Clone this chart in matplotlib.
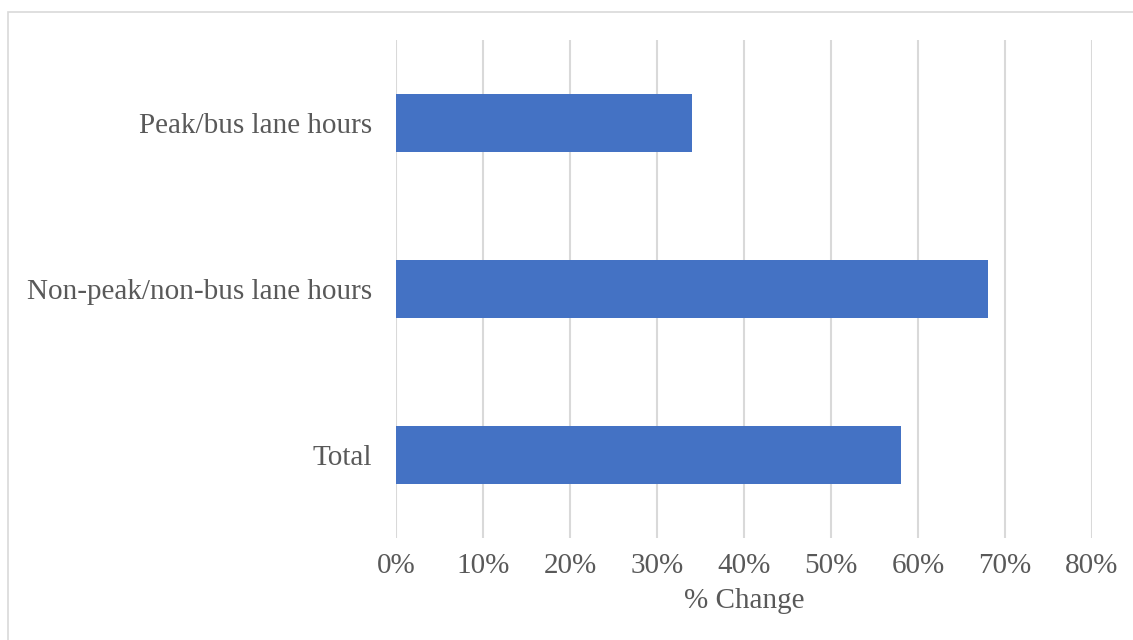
import matplotlib.pyplot as plt
from matplotlib.patches import Rectangle
from matplotlib.ticker import FuncFormatter

categories = ["Peak/bus lane hours", "Non-peak/non-bus lane hours", "Total"]
pct_change = [34, 68, 58]
xticks = [0, 10, 20, 30, 40, 50, 60, 70, 80]

TEXT = "#595959"
GRID = "#D9D9D9"
BAR = "#4472C4"

plt.rcParams["font.family"] = ["Liberation Serif", "DejaVu Serif"]

fig = plt.figure(figsize=(11.33, 6.4), dpi=100)
ax = fig.add_axes([396 / 1133, 1 - 538 / 640, (1092 - 396) / 1133, (538 - 40) / 640])

ypos = list(range(len(categories)))
ax.barh(ypos, pct_change, height=0.35, color=BAR, zorder=3)
ax.set_ylim(len(categories) - 0.5, -0.5)
ax.set_yticks(ypos)
ax.set_yticklabels(categories, fontsize=21, color=TEXT)

ax.set_xlim(0, 80)
ax.set_xticks(xticks)
ax.xaxis.set_major_formatter(FuncFormatter(lambda v, p: f"{v:.0f}%"))
ax.tick_params(axis="x", labelsize=21, labelcolor=TEXT, length=0, pad=11)
ax.tick_params(axis="y", length=0, pad=17)
ax.grid(axis="x", color=GRID, lw=1.5, zorder=0)
for s in ax.spines.values():
    s.set_visible(False)

ax.set_xlabel("% Change", fontsize=21, color=TEXT, labelpad=6)

fig.patches.append(Rectangle((8 / 1133, -0.1), 1.2, 1.1 - 12 / 640, transform=fig.transFigure,
                             fill=False, edgecolor=GRID, lw=1.2))

fig.savefig("out.png", dpi=100)
